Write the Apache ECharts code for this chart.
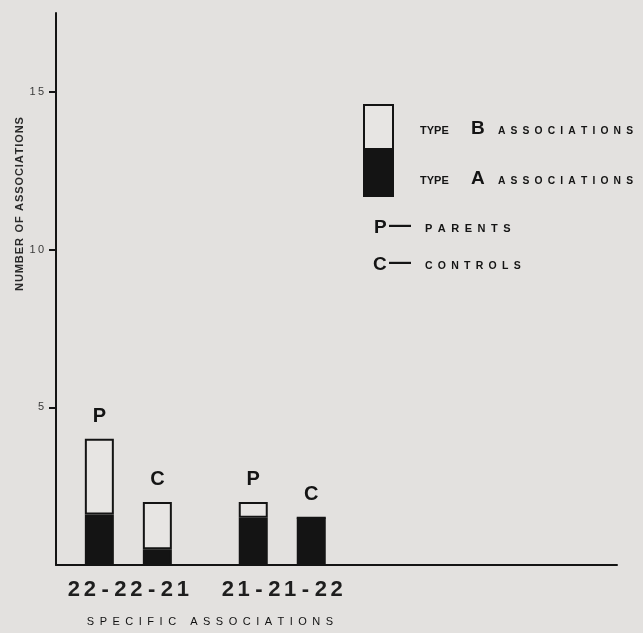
<!DOCTYPE html>
<html>
<head>
<meta charset="utf-8">
<script src="https://cdn.jsdelivr.net/npm/echarts@6/dist/echarts.min.js"></script>
<style>
  html, body { margin: 0; padding: 0; background: #e3e1df; }
  #chart { width: 643px; height: 633px; }
</style>
</head>
<body>
<div id="chart"></div>
<script>
// Association groups along the horizontal axis
const groups = ['22-22-21', '21-21-22'];
// Number of associations per group
const parentsTypeA = [1.6, 1.5];
const parentsTypeB = [2.4, 0.5];
const controlsTypeA = [0.5, 1.5];
const controlsTypeB = [1.5, 0];
// Value-axis tick labels
const yTicks = [5, 10, 15];

const INK = '#141414';
const PAPER = '#e3e1df';
const OPEN = '#e7e5e3';
const FONT = '"Liberation Sans", Arial, sans-serif';
const Y_MAX = 17.5;

// widen lettering by putting a spacer between characters
function spaced(str, gap, wordGap) {
  return str.split(' ').map(w => w.split('').join(gap)).join(wordGap);
}
const EN = '\u2002', SIX = '\u2006', FOUR = '\u2005';

function barSeries(name, stack, vals, filled, tag) {
  const s = {
    name, type: 'bar', stack, data: vals, xAxisIndex: 1, yAxisIndex: 1,
    barWidth: 29, barGap: '100%',
    itemStyle: { color: filled ? INK : OPEN, borderColor: INK, borderWidth: 2 },
    emphasis: { disabled: true }
  };
  if (tag) {
    s.label = {
      show: true, position: 'top', distance: 12, formatter: tag,
      fontFamily: FONT, fontSize: 20, fontWeight: 'bold', color: INK
    };
  }
  return s;
}

function text(x, y, str, size, extra) {
  return {
    type: 'text', x, y,
    style: Object.assign({
      text: str, fontFamily: FONT, fontSize: size, fontWeight: 'bold', fill: INK, verticalAlign: 'middle'
    }, extra || {})
  };
}

const chart = echarts.init(document.getElementById('chart'));
chart.setOption({
  backgroundColor: PAPER,
  animation: false,
  grid: [
    // frame: full-length axes
    { left: 56, right: 26, top: 13, bottom: 68 },
    // bar groups
    { left: 51.4, right: 283.8, top: 13, bottom: 68 }
  ],
  xAxis: [
    {
      gridIndex: 0, type: 'value', min: 0, max: 1,
      splitLine: { show: false },
      axisLine: { show: true, lineStyle: { color: INK, width: 2 } },
      axisTick: { show: false }, axisLabel: { show: false }
    },
    {
      gridIndex: 1, type: 'category', data: groups,
      axisLine: { show: false }, axisTick: { show: false },
      axisLabel: {
        interval: 0, hideOverlap: false,
        formatter: g => g.split('-').map(p => p.split('').join(SIX)).join(FOUR + '-' + FOUR),
        margin: 14, fontFamily: FONT, fontSize: 22, fontWeight: 'bold', color: '#1e1e1e'
      }
    }
  ],
  yAxis: [
    {
      gridIndex: 0, type: 'value', min: 0, max: Y_MAX, interval: 5,
      splitLine: { show: false },
      axisLine: { show: true, lineStyle: { color: INK, width: 2 } },
      axisTick: { show: true, customValues: yTicks, length: 7, lineStyle: { color: INK, width: 2 } },
      axisLabel: {
        customValues: yTicks, margin: 12,
        formatter: v => String(v).split('').join('\u2009'),
        fontFamily: FONT, fontSize: 11, color: '#3a3a3a'
      }
    },
    {
      gridIndex: 1, type: 'value', min: 0, max: Y_MAX, show: false,
      splitLine: { show: false }
    }
  ],
  series: [
    barSeries('Parents type A', 'P', parentsTypeA, true),
    barSeries('Parents type B', 'P', parentsTypeB, false, 'P'),
    barSeries('Controls type A', 'C', controlsTypeA, true),
    barSeries('Controls type B', 'C', controlsTypeB, false, 'C')
  ],
  graphic: [
    // axis titles
    {
      type: 'text', x: 210, y: 622,
      style: {
        text: spaced('SPECIFIC ASSOCIATIONS', EN, EN + ' ' + EN),
        fontFamily: FONT, fontSize: 11, fill: '#111', align: 'center', verticalAlign: 'middle'
      }
    },
    {
      type: 'text', x: 20, y: 204, rotation: Math.PI / 2,
      style: {
        text: spaced('NUMBER OF ASSOCIATIONS', '\u200A', EN),
        fontFamily: FONT, fontSize: 11, fontWeight: 'bold', fill: '#2a2a2a', align: 'center', verticalAlign: 'middle'
      }
    },
    // key: split swatch
    {
      type: 'rect', shape: { x: 364, y: 105, width: 29, height: 91 },
      style: { fill: OPEN, stroke: INK, lineWidth: 2 }
    },
    {
      type: 'rect', shape: { x: 363, y: 148, width: 31, height: 49 },
      style: { fill: INK }
    },
    text(420, 131, 'TYPE', 11),
    text(471, 129, 'B', 19),
    text(498, 131, spaced('ASSOCIATIONS', EN, EN), 10.3),
    text(420, 181, 'TYPE', 11),
    text(471, 179, 'A', 19),
    text(498, 181, spaced('ASSOCIATIONS', EN, EN), 10.3),
    text(374, 228, 'P', 19),
    text(389, 226, '\u2014', 22),
    text(425, 229, spaced('PARENTS', EN, EN), 11),
    text(373, 265, 'C', 19),
    text(389, 263, '\u2014', 22),
    text(425, 266, spaced('CONTROLS', EN, EN), 10.5)
  ]
});
</script>
</body>
</html>
